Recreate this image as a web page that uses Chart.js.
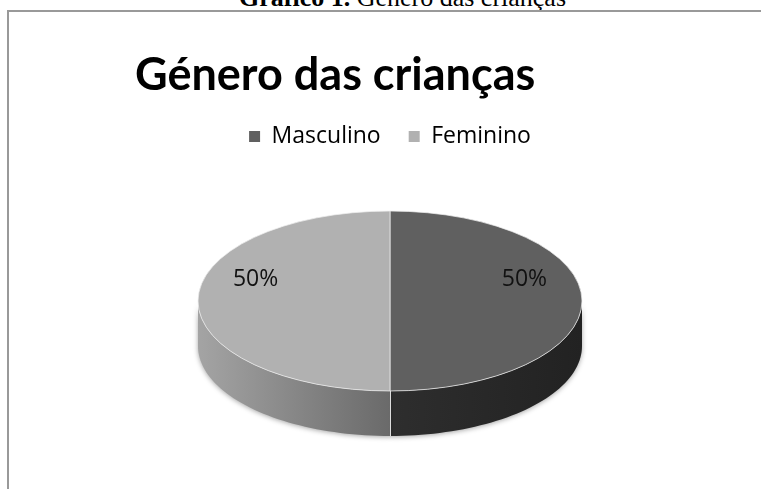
<!DOCTYPE html>
<html lang="pt">
<head>
<meta charset="UTF-8">
<title>Género das crianças</title>
<script src="https://cdn.jsdelivr.net/npm/chart.js"></script>
<style>
  html, body { margin: 0; padding: 0; background: #fff; overflow: hidden; }
  #caption {
    position: absolute; left: 22px; top: -17px; width: 761px;
    text-align: center; font-family: "Liberation Serif", "Times New Roman", serif;
    font-size: 26px; line-height: 30px; color: #000; white-space: nowrap;
  }
  #frame {
    position: absolute; left: 7px; top: 10px; width: 900px; height: 700px;
    border-left: 2px solid #999; border-top: 2px solid #999;
  }
  #chart { position: absolute; left: 0; top: 0; }
</style>
</head>
<body>
  <div id="caption"><b>Gráfico 1.</b> Género das crianças</div>
  <div id="frame"></div>
  <canvas id="chart" width="761" height="489"></canvas>

<script>
  // chart data
  const categories = ['Masculino', 'Feminino'];
  const values = [50, 50];

  const topColors = ['#606060', '#b1b1b1'];
  // side gradient: [colour at pie centre line, colour at outer edge]
  const sideColors = [['#2e2e2e', '#222222'], ['#6a6a6a', '#a4a4a4']];

  const SQUASH = 90 / 192;   // ellipse ratio of the tilted top face
  const DEPTH = 45;          // thickness of the pie

  const pie3d = {
    id: 'pie3d',
    beforeDatasetsDraw(chart) {
      const ctx = chart.ctx;
      const arcs = chart.getDatasetMeta(0).data;
      const cx = arcs[0].x, cy = arcs[0].y;

      // side walls, only the front half (angles 0..PI) can be seen
      arcs.forEach((arc, i) => {
        const p = arc.getProps(['x', 'y', 'startAngle', 'endAngle', 'outerRadius'], true);
        const R = p.outerRadius;
        [0, Math.PI * 2].forEach(off => {
          const a0 = Math.max(p.startAngle, off), a1 = Math.min(p.endAngle, off + Math.PI);
          if (a1 <= a0) return;
          const n = 48;
          ctx.save();
          ctx.beginPath();
          for (let k = 0; k <= n; k++) {
            const t = a0 + (a1 - a0) * k / n;
            const px = p.x + R * Math.cos(t), py = p.y + R * SQUASH * Math.sin(t);
            k === 0 ? ctx.moveTo(px, py) : ctx.lineTo(px, py);
          }
          for (let k = n; k >= 0; k--) {
            const t = a0 + (a1 - a0) * k / n;
            ctx.lineTo(p.x + R * Math.cos(t), p.y + R * SQUASH * Math.sin(t) + DEPTH);
          }
          ctx.closePath();
          const x0 = p.x + R * Math.cos(a0), x1 = p.x + R * Math.cos(a1);
          const farX = Math.abs(x0 - p.x) > Math.abs(x1 - p.x) ? x0 : x1;
          const g = ctx.createLinearGradient(p.x, 0, farX, 0);
          g.addColorStop(0, sideColors[i][0]);
          g.addColorStop(1, sideColors[i][1]);
          ctx.fillStyle = g;
          ctx.shadowColor = 'rgba(0,0,0,0.35)';
          ctx.shadowBlur = 5;
          ctx.shadowOffsetY = 1;
          ctx.fill();
          ctx.restore();

          // light seam where two slices meet on the side
          [a0, a1].forEach(t => {
            if (t <= off + 0.001 || t >= off + Math.PI - 0.001) return;
            const sx = p.x + R * Math.cos(t), sy = p.y + R * SQUASH * Math.sin(t);
            ctx.save();
            ctx.strokeStyle = '#dcdcdc';
            ctx.lineWidth = 1;
            ctx.beginPath();
            ctx.moveTo(Math.round(sx) + 0.5, sy);
            ctx.lineTo(Math.round(sx) + 0.5, sy + DEPTH);
            ctx.stroke();
            ctx.restore();
          });
        });
      });

      // squash the library's circular pie into the ellipse of the top face
      ctx.save();
      ctx.translate(cx, cy);
      ctx.scale(1, SQUASH);
      ctx.translate(-cx, -cy);
    },
    afterDatasetsDraw(chart) {
      const ctx = chart.ctx;
      ctx.restore();
      const arcs = chart.getDatasetMeta(0).data;
      const total = values.reduce((a, b) => a + b, 0);
      ctx.save();
      ctx.font = '23px "Open Sans"';
      ctx.fillStyle = '#111';
      ctx.textAlign = 'center';
      ctx.textBaseline = 'middle';
      arcs.forEach((arc, i) => {
        const p = arc.getProps(['x', 'y', 'startAngle', 'endAngle', 'outerRadius'], true);
        const mid = (p.startAngle + p.endAngle) / 2;
        const lx = p.x + Math.cos(mid) * p.outerRadius * 0.7;
        const ly = p.y + Math.sin(mid) * p.outerRadius * SQUASH * 0.7 - 22;
        ctx.fillText(Math.round(values[i] / total * 100) + '%', lx, ly);
      });
      ctx.restore();
    }
  };

  const baseLabels = (Chart.overrides.pie || Chart.overrides.doughnut).plugins.legend.labels.generateLabels;

  new Chart(document.getElementById('chart'), {
    type: 'pie',
    data: {
      labels: categories,
      datasets: [{
        data: values,
        backgroundColor: topColors,
        borderColor: '#eeeeee',
        borderWidth: 1,
        radius: 192,
        clip: false,
        hoverOffset: 0
      }]
    },
    options: {
      responsive: false,
      animation: false,
      devicePixelRatio: 1,
      layout: { padding: { left: 135, right: 116, top: 0, bottom: 45 } },
      plugins: {
        title: {
          display: true,
          text: 'Género das crianças',
          align: 'start',
          color: '#000',
          font: { family: 'Lato', size: 45, weight: 'bold' },
          padding: { top: 48, bottom: -5 }
        },
        legend: {
          position: 'top',
          labels: {
            color: '#000',
            font: { family: 'Open Sans', size: 23 },
            boxWidth: 11,
            boxHeight: 11,
            padding: 28,
            generateLabels(chart) {
              const items = baseLabels(chart);
              items.forEach(it => { it.lineWidth = 0; it.strokeStyle = 'rgba(0,0,0,0)'; });
              return items;
            }
          }
        },
        tooltip: { enabled: false }
      }
    },
    plugins: [pie3d]
  });
</script>
</body>
</html>
